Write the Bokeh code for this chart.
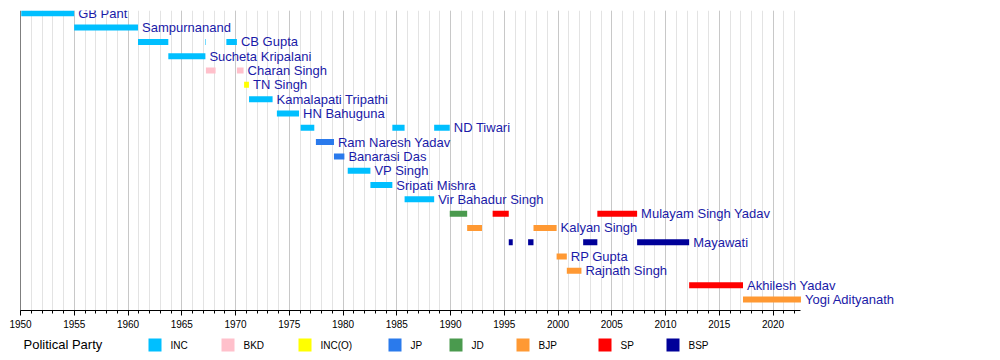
from bokeh.plotting import figure
from bokeh.models import Range1d, SingleIntervalTicker, Span, ColumnDataSource
from bokeh.layouts import column
from bokeh.embed import file_html
from bokeh.resources import INLINE
from bokeh.core.properties import value

# ---------------- data ----------------
chief_ministers = [
    "GB Pant", "Sampurnanand", "CB Gupta", "Sucheta Kripalani", "Charan Singh",
    "TN Singh", "Kamalapati Tripathi", "HN Bahuguna", "ND Tiwari", "Ram Naresh Yadav",
    "Banarasi Das", "VP Singh", "Sripati Mishra", "Vir Bahadur Singh",
    "Mulayam Singh Yadav", "Kalyan Singh", "Mayawati", "RP Gupta", "Rajnath Singh",
    "Akhilesh Yadav", "Yogi Adityanath",
]

term_cm = [
    "GB Pant", "Sampurnanand",
    "CB Gupta", "CB Gupta", "CB Gupta",
    "Sucheta Kripalani",
    "Charan Singh", "Charan Singh",
    "TN Singh", "Kamalapati Tripathi", "HN Bahuguna",
    "ND Tiwari", "ND Tiwari", "ND Tiwari",
    "Ram Naresh Yadav", "Banarasi Das", "VP Singh", "Sripati Mishra", "Vir Bahadur Singh",
    "Mulayam Singh Yadav", "Mulayam Singh Yadav", "Mulayam Singh Yadav",
    "Kalyan Singh", "Kalyan Singh",
    "Mayawati", "Mayawati", "Mayawati", "Mayawati",
    "RP Gupta", "Rajnath Singh", "Akhilesh Yadav", "Yogi Adityanath",
]
term_party = [
    "INC", "INC",
    "INC", "INC", "INC",
    "INC",
    "BKD", "BKD",
    "INC(O)", "INC", "INC",
    "INC", "INC", "INC",
    "JP", "JP", "INC", "INC", "INC",
    "JD", "SP", "SP",
    "BJP", "BJP",
    "BSP", "BSP", "BSP", "BSP",
    "BJP", "BJP", "SP", "BJP",
]
term_start = [
    1950.07, 1954.99,
    1960.93, 1967.20, 1969.15,
    1963.75,
    1967.25, 1970.13,
    1970.80, 1971.26, 1973.85,
    1976.06, 1984.59, 1988.48,
    1977.48, 1979.16, 1980.44, 1982.55, 1985.73,
    1989.93, 1993.92, 2003.66,
    1991.55, 1997.72,
    1995.42, 1997.22, 2002.34, 2007.36,
    1999.87, 2000.82, 2012.20, 2017.21,
]
term_end = [
    1954.99, 1960.93,
    1963.75, 1967.25, 1970.13,
    1967.20,
    1968.15, 1970.75,
    1971.25, 1973.45, 1975.91,
    1977.33, 1985.73, 1989.93,
    1979.16, 1980.13, 1982.55, 1984.59, 1988.48,
    1991.55, 1995.42, 2007.36,
    1992.93, 1999.87,
    1995.79, 1997.72, 2003.66, 2012.20,
    2000.82, 2002.18, 2017.21, 2022.60,
]

parties = ["INC", "BKD", "INC(O)", "JP", "JD", "BJP", "SP", "BSP"]
party_colors = ["#00BFFF", "#FFC0CB", "#FFFF00", "#2A7AEC", "#4A9A4E", "#FF9933", "#FF0000", "#000099"]

# ---------------- layout constants ----------------
PX_PER_YEAR = 10.75
X0 = 1950
AXIS_END = 2022.6
TEXT_COLOR = "#1a1aa8"
FONT = "Liberation Sans"
W = 992
LEFT = 20

color_of = dict(zip(parties, party_colors))
row_of = {n: i for i, n in enumerate(chief_ministers)}

bars = ColumnDataSource(dict(
    y=[row_of[c] for c in term_cm],
    left=term_start,
    right=term_end,
    color=[color_of[pt] for pt in term_party],
))

label_x = []
for n in chief_ministers:
    last = max(e for c, e in zip(term_cm, term_end) if c == n)
    label_x.append(last + 4.0 / PX_PER_YEAR)
labels = ColumnDataSource(dict(x=label_x, y=list(range(len(chief_ministers))), text=chief_ministers))

frame_w = W - LEFT
p = figure(
    width=W, height=336,
    x_range=Range1d(X0, X0 + frame_w / PX_PER_YEAR),
    y_range=Range1d(20.77, -0.196),
    y_axis_location=None,
    output_backend="svg", toolbar_location=None,
    min_border_left=LEFT, min_border_right=0, min_border_top=10, min_border_bottom=26,
)
p.outline_line_color = None
p.background_fill_color = "white"
p.border_fill_color = "white"
p.ygrid.visible = False

ticker = SingleIntervalTicker(interval=5, num_minor_ticks=5)
p.xaxis.ticker = ticker
p.xaxis.bounds = (X0, AXIS_END)
p.xaxis.axis_line_color = "black"
p.xaxis.major_tick_line_color = "black"
p.xaxis.minor_tick_line_color = "black"
p.xaxis.major_tick_in = 0
p.xaxis.major_tick_out = 5
p.xaxis.minor_tick_in = 0
p.xaxis.minor_tick_out = 3
p.xaxis.major_label_text_font = FONT
p.xaxis.major_label_text_font_size = "10px"
p.xaxis.major_label_text_color = "black"
p.xaxis.major_label_standoff = 4

p.xgrid.ticker = ticker
p.xgrid.bounds = (X0, AXIS_END)
p.xgrid.grid_line_color = "#c8c8c8"
p.xgrid.minor_grid_line_color = "#e3e3e3"

p.add_layout(Span(location=X0, dimension="height", line_color="black", line_width=1))

p.hbar(y="y", left="left", right="right", height=6.0 / 14.31, color="color",
       line_color=None, source=bars)
p.text(x="x", y="y", text="text", source=labels, text_font=value(FONT),
       text_font_size="13px", text_color=TEXT_COLOR, text_baseline="middle",
       text_align="left")

# ---------------- legend strip (x in page pixels) ----------------
legend_left_px = [148, 221, 298, 388, 449, 516, 598, 666]
lf = figure(
    width=W, height=22,
    x_range=Range1d(LEFT, W), y_range=Range1d(22, 0),
    x_axis_location=None, y_axis_location=None,
    output_backend="svg", toolbar_location=None,
    min_border_left=LEFT, min_border_right=0, min_border_top=0, min_border_bottom=0,
)
lf.outline_line_color = None
lf.xgrid.visible = False
lf.ygrid.visible = False
leg = ColumnDataSource(dict(
    left=legend_left_px,
    right=[x + 13 for x in legend_left_px],
    tx=[x + 22 for x in legend_left_px],
    color=party_colors,
    name=parties,
))
lf.quad(left="left", right="right", top=2, bottom=15, color="color", line_color=None, source=leg)
lf.text(x="tx", y=8.5, text="name", source=leg, text_font=value(FONT), text_font_size="10px",
        text_color="black", text_baseline="middle")
lf.text(x=[23], y=[8], text=["Political Party"], text_font=value(FONT), text_font_size="13px",
        text_color="black", text_baseline="middle")

layout = column(p, lf, spacing=0)
open("out.html", "w").write(file_html(layout, INLINE))
